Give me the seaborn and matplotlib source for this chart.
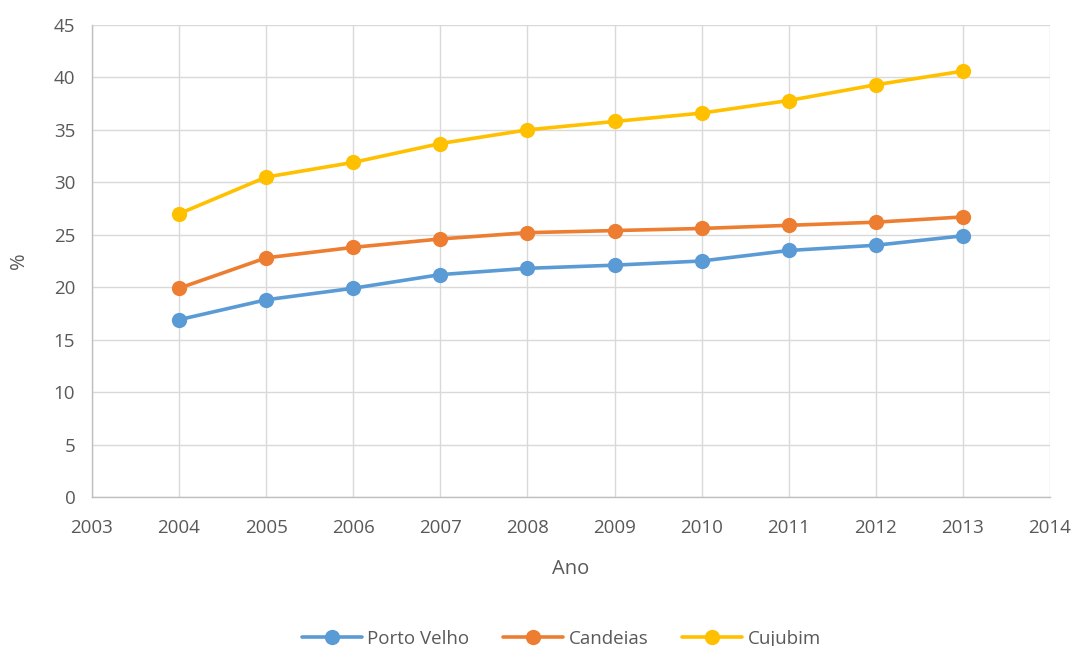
import matplotlib
matplotlib.use("Agg")
import matplotlib.pyplot as plt
import seaborn as sns
import pandas as pd

years = [2004, 2005, 2006, 2007, 2008, 2009, 2010, 2011, 2012, 2013]
porto_velho = [16.9, 18.8, 19.9, 21.2, 21.8, 22.1, 22.5, 23.5, 24.0, 24.9]
candeias = [19.9, 22.8, 23.8, 24.6, 25.2, 25.4, 25.6, 25.9, 26.2, 26.7]
cujubim = [27.0, 30.5, 31.9, 33.7, 35.0, 35.8, 36.6, 37.8, 39.3, 40.6]
series_names = ["Porto Velho", "Candeias", "Cujubim"]
colors = ["#5B9BD5", "#ED7D31", "#FFC000"]
x_ticks = list(range(2003, 2015))
y_ticks = list(range(0, 46, 5))

sns.set_theme(style="white")
plt.rcParams['font.family'] = ['Open Sans', 'DejaVu Sans']

df = pd.DataFrame({
    "Ano": years * 3,
    "valor": porto_velho + candeias + cujubim,
    "serie": [s for s in series_names for _ in years],
})

fig = plt.figure(figsize=(10.78, 6.46), dpi=100)
ax = fig.add_axes([0.0853, 0.2307, 0.8887, 0.7306])

sns.lineplot(data=df, x="Ano", y="valor", hue="serie", hue_order=series_names,
             palette=colors, marker="o", markersize=11, markeredgewidth=0,
             linewidth=2.6, ax=ax, legend=True)

ax.set_xlim(2003, 2014)
ax.set_ylim(0, 45)
ax.set_xticks(x_ticks)
ax.set_yticks(y_ticks)
ax.grid(True, color="#d9d9d9", linewidth=1)
ax.set_axisbelow(True)
for s in ["top", "right"]:
    ax.spines[s].set_visible(False)
for s in ["left", "bottom"]:
    ax.spines[s].set_color("#bfbfbf")
    ax.spines[s].set_linewidth(1)
ax.tick_params(axis="both", length=0, labelsize=13.5, colors="#595959")
ax.tick_params(axis="x", pad=16)
ax.tick_params(axis="y", pad=12)
ax.set_xlabel("Ano", fontsize=14.5, color="#595959", labelpad=16)
ax.set_ylabel("%", fontsize=14.5, color="#595959", labelpad=18)

h, l = ax.get_legend_handles_labels()
ax.legend(h, l, loc="center", bbox_to_anchor=(0.49, -0.3), ncol=3, frameon=False,
          fontsize=13.5, labelcolor="#595959", handlelength=3.2, columnspacing=1.8,
          handletextpad=0.3)

fig.savefig("out.png", dpi=100, facecolor="white")
